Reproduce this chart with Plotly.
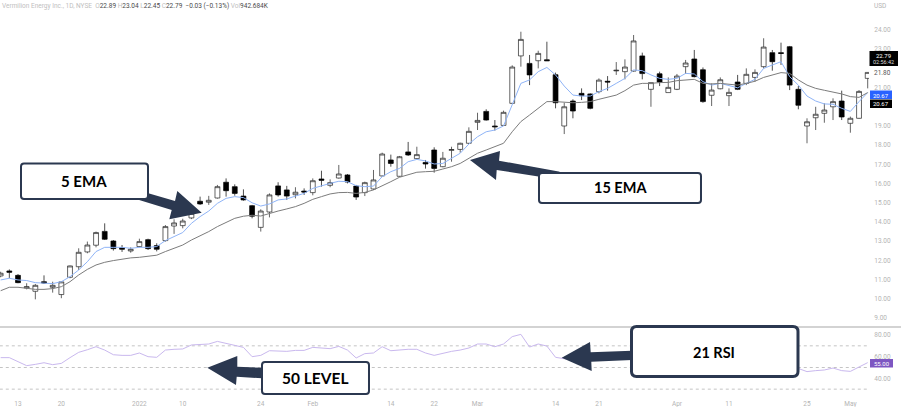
import plotly.graph_objects as go

W, H = 901, 407

bars = list(range(-2, 99))
opens = [11.19,11.45,11.22,10.56,10.39,10.89,10.60,10.22,11.12,11.67,12.44,12.79,13.51,13.01,12.66,12.49,12.72,13.08,12.77,13.03,13.79,13.81,14.21,15.08,15.03,15.25,16.07,15.84,15.35,14.85,13.72,14.52,15.88,15.67,15.42,
         15.61,15.53,16.24,15.91,16.29,16.45,15.87,15.53,15.72,16.40,17.23,16.38,17.65,17.30,17.10,17.75,16.88,17.73,17.78,18.10,19.19,19.76,19.00,19.03,20.18,22.65,22.26,22.40,22.45,21.67,19.00,20.30,20.70,20.67,20.79,
         21.33,21.87,21.83,21.86,22.65,20.91,21.72,20.74,20.91,22.09,22.49,21.93,20.60,20.94,20.58,21.29,21.22,21.53,22.09,22.82,22.82,23.13,20.91,19.00,19.43,19.66,20.00,20.30,19.14,19.40,21.48]
highs = [11.41,11.53,11.29,10.81,10.77,11.22,10.89,10.90,11.73,12.63,12.98,13.50,13.93,13.06,12.80,12.68,13.13,13.13,12.89,13.84,14.14,14.17,14.60,15.32,15.36,15.93,16.27,15.96,15.70,14.89,14.66,15.49,16.07,15.88,15.81,
         15.75,16.27,16.67,16.22,16.97,16.50,15.93,16.10,16.71,17.61,17.51,17.44,18.17,17.92,17.23,17.89,17.65,17.92,18.13,18.93,19.69,19.87,19.31,19.80,22.16,23.91,22.70,22.92,23.39,21.78,20.21,20.39,20.96,20.70,21.48,
         21.60,22.33,22.47,23.74,22.82,21.26,21.83,21.53,21.71,22.44,22.96,22.05,21.22,21.53,20.96,21.66,22.00,21.95,23.57,22.96,23.34,23.17,21.08,19.40,20.00,20.18,20.44,20.84,19.49,20.87,21.80]
lows = [11.12,11.07,10.81,10.49,9.97,10.77,10.32,10.03,11.07,11.50,12.37,12.68,13.06,12.51,12.44,12.40,12.68,12.54,12.47,12.98,13.38,13.67,14.15,14.89,14.89,15.22,15.32,15.37,15.11,14.19,13.50,14.24,15.32,15.15,15.23,
        15.41,15.39,15.84,15.81,16.26,16.01,15.15,15.35,15.67,16.36,16.88,16.36,17.44,17.26,16.78,16.57,16.85,17.14,17.61,18.06,18.79,19.28,18.76,19.00,20.15,22.09,21.13,22.00,22.40,19.92,18.58,19.40,20.35,19.87,20.70,
        20.84,21.66,21.43,21.83,21.43,20.00,21.08,20.74,20.87,21.71,21.53,20.21,20.04,20.91,20.04,20.87,21.13,21.31,22.00,21.88,22.18,20.87,19.87,18.10,18.79,19.17,19.31,19.31,18.65,19.38,20.96]
closes = [11.33,11.38,10.84,10.63,10.70,10.82,10.70,10.88,11.71,12.42,12.80,13.45,13.10,12.61,12.58,12.58,12.98,12.61,12.58,13.76,13.95,14.05,14.45,14.94,15.13,15.84,15.63,15.49,15.15,14.30,14.57,15.41,15.41,15.35,15.55,
          15.56,16.15,16.17,16.05,16.50,16.08,15.30,16.05,16.19,17.54,17.05,17.40,17.49,17.51,17.02,16.79,17.32,17.77,18.10,18.72,19.29,19.31,18.96,19.71,22.07,23.51,21.66,22.78,22.40,20.21,20.00,19.78,20.58,19.92,21.39,
          21.29,21.90,22.07,23.43,21.73,21.26,21.29,21.01,21.60,22.28,21.57,20.27,20.87,21.41,20.75,20.91,21.69,21.79,23.11,22.35,22.78,21.13,20.08,19.22,19.61,19.83,20.27,19.47,19.40,20.80,21.79]

ema5 = [10.98,11.07,10.98,10.95,10.84,10.81,10.79,10.89,11.15,11.50,11.93,12.46,12.68,12.68,12.68,12.63,12.68,12.68,12.72,13.03,13.24,13.45,13.93,14.28,14.57,14.97,15.23,15.32,15.27,15.00,14.83,14.94,15.15,15.20,15.35,
        15.49,15.75,15.89,16.01,16.12,16.10,15.89,15.84,15.87,16.36,16.62,16.79,17.14,17.26,17.18,17.02,17.05,17.32,17.58,18.06,18.44,18.70,18.79,19.00,20.09,21.22,21.40,21.83,22.05,21.66,21.08,20.61,20.56,20.56,20.79,
        20.96,21.22,21.48,21.92,21.88,21.66,21.48,21.43,21.48,21.74,21.71,21.31,21.13,21.22,21.10,20.99,21.22,21.43,22.00,22.18,22.35,21.57,21.13,20.56,20.30,20.15,20.13,19.92,19.76,20.27,20.74]
ema15 = [10.42,10.60,10.60,10.53,10.49,10.49,10.53,10.63,10.89,11.24,11.53,11.76,11.90,11.99,12.06,12.13,12.16,12.20,12.27,12.46,12.63,12.80,13.06,13.27,13.50,13.76,13.97,14.19,14.30,14.35,14.31,14.45,14.57,14.68,14.80,
         14.97,15.18,15.32,15.46,15.53,15.54,15.49,15.54,15.67,15.87,16.10,16.33,16.48,16.59,16.62,16.64,16.76,16.88,17.05,17.32,17.58,17.75,17.92,18.10,18.70,19.23,19.57,19.92,20.27,20.27,20.23,20.21,20.23,20.27,20.39,
         20.49,20.61,20.84,21.13,21.22,21.22,21.26,21.27,21.36,21.41,21.43,21.22,21.19,21.22,21.19,21.13,21.22,21.33,21.53,21.66,21.78,21.74,21.40,21.13,20.96,20.86,20.77,20.67,20.53,20.49,20.74]
rsi = [59.1,59.1,55.4,51.7,52.9,54.4,52.6,53.8,59.1,64.0,66.4,69.2,66.1,61.8,61.2,61.2,63.4,60.0,59.4,66.1,66.8,67.1,70.8,71.4,71.7,74.1,72.3,71.1,68.6,60.0,61.2,65.5,65.2,64.9,65.8,65.8,68.6,68.0,67.4,69.5,66.1,58.8,62.8,63.4,69.2,65.5,66.4,66.8,66.8,63.4,61.2,63.4,64.9,
       66.1,68.0,71.7,71.7,69.2,71.7,78.5,80.6,68.9,71.7,69.8,59.4,58.1,
       57,56,58,60,61,60,60,58,57,56,55,55,56,58,55,52,53,53,54,55,56,58,60,61,59,52,
       49.2,46.2,47.1,47.7,49.5,47.1,46.4,50.8,54.5]

date_ticks = [0, 5, 14, 19, 28, 34, 43, 48, 53, 62, 67, 76, 82, 91, 96]
date_labels = ["13", "20", "2022", "10", "24", "Feb", "14", "22", "Mar", "14", "21", "Apr", "11", "25", "May"]
price_ticks = [24, 23, 21, 19, 18, 17, 16, 15, 14, 13, 12, 11, 10, 9]
rsi_ticks = [80, 60, 40]
rsi_levels = [70, 50, 30]
AXIS = "#b4b4b4"
NAVY = "#2b3850"
TICKFONT = dict(size=6.5, color=AXIS, family="Roboto")

def px(x):
    return x / W
def py(y):
    return 1 - y / H

fig = go.Figure()
fig.add_trace(go.Candlestick(x=bars, open=opens, high=highs, low=lows, close=closes,
    increasing=dict(line=dict(color="#222222", width=0.7), fillcolor="#ffffff"),
    decreasing=dict(line=dict(color="#000000", width=0.7), fillcolor="#000000"),
    whiskerwidth=0, showlegend=False, hoverinfo="skip", xaxis="x", yaxis="y"))
fig.add_trace(go.Scatter(x=bars, y=ema5, mode="lines", line=dict(color="#8fb4f7", width=1), showlegend=False, xaxis="x", yaxis="y"))
fig.add_trace(go.Scatter(x=bars, y=ema15, mode="lines", line=dict(color="#7c7c7c", width=1), showlegend=False, xaxis="x", yaxis="y"))
fig.add_trace(go.Scatter(x=bars, y=rsi, mode="lines", line=dict(color="#c9b8ee", width=1), showlegend=False, xaxis="x2", yaxis="y2"))

shapes = []
for lv in rsi_levels:
    shapes.append(dict(type="line", xref="x2", yref="y2", x0=-2.1, x1=98, y0=lv, y1=lv,
                       line=dict(color="#c4c4c4", width=1, dash="3px,3px"), layer="below"))
shapes.append(dict(type="line", xref="paper", yref="paper", x0=0, x1=1, y0=py(327), y1=py(327),
                   line=dict(color="#a8a8a8", width=1.2)))

def poly(points):
    d = "M " + " L ".join(f"{px(x):.5f} {py(y):.5f}" for x, y in points) + " Z"
    shapes.append(dict(type="path", xref="paper", yref="paper", path=d, fillcolor=NAVY, line=dict(width=0)))

def round_box(x0, y0, x1, y1, r, lw):
    P = lambda x, y: f"{px(x):.5f} {py(y):.5f}"
    d = (f"M {P(x0+r,y0)} L {P(x1-r,y0)} Q {P(x1,y0)} {P(x1,y0+r)} L {P(x1,y1-r)} Q {P(x1,y1)} {P(x1-r,y1)} "
         f"L {P(x0+r,y1)} Q {P(x0,y1)} {P(x0,y1-r)} L {P(x0,y0+r)} Q {P(x0,y0)} {P(x0+r,y0)} Z")
    shapes.append(dict(type="path", xref="paper", yref="paper", path=d, fillcolor="#ffffff", line=dict(color=NAVY, width=lw)))

def rect(x0, y0, x1, y1, color):
    shapes.append(dict(type="rect", xref="paper", yref="paper", x0=px(x0), x1=px(x1), y0=py(y0), y1=py(y1),
                       fillcolor=color, line=dict(width=0)))

poly([(148.3,193.3),(175,201),(177.3,191),(201.7,212.7),(169.3,219.3),(171.7,210),(136.7,199.3)])
poly([(470,160),(500,151),(499,160.7),(560,171.7),(540,176.7),(496.7,170),(496,180)])
poly([(561.7,357.7),(590,342),(590.7,352.3),(632,350.7),(632,360),(591.3,361.7),(591.7,371)])
poly([(207.3,367.7),(237.3,356),(237.3,366.7),(262,367.7),(262,378.3),(236.7,376.7),(236,385)])
round_box(21, 163.5, 148, 199, 3, 2)
round_box(539, 173, 701, 203, 3, 2)
round_box(631.5, 326.5, 798, 376.5, 5, 3)
round_box(262, 362, 369, 394, 3, 2)
rect(869.5, 51, 898, 66, "#000000")
rect(870, 90.5, 892, 99, "#2962ff")
rect(870, 99.5, 892, 108, "#000000")
rect(870, 359, 893, 367.5, "#7e57c2")

def note(x, y, text, size=6.5, color=AXIS, anchor="center", family="Roboto"):
    return dict(xref="paper", yref="paper", x=px(x), y=py(y), text=text, showarrow=False, xanchor=anchor, yanchor="middle",
                font=dict(size=size, color=color, family=family), borderpad=0, borderwidth=0)

G = "color:#c0c0c0"
D = "color:#4a4a4a"
header = (f"<span style='{G}'>Vermilion Energy Inc., 1D, NYSE  O</span><span style='{D}'>22.89</span> "
          f"<span style='{G}'>H</span><span style='{D}'>23.04</span> <span style='{G}'>L</span><span style='{D}'>22.45</span> "
          f"<span style='{G}'>C</span><span style='{D}'>22.79  −0.03 (−0.13%)</span> <span style='{G}'>Vol</span><span style='{D}'>942.684K</span>")

annotations = [
    note(2, 6, header, anchor="left"),
    note(880, 6, "USD"),
    note(84, 181, "<b>5 EMA</b>", size=15, color="#000000", family="Lato"),
    note(620, 187.5, "<b>15 EMA</b>", size=14.5, color="#000000", family="Lato"),
    note(714, 352, "<b>21 RSI</b>", size=14.5, color="#000000", family="Lato"),
    note(315, 377.5, "<b>50 LEVEL</b>", size=15.5, color="#000000", family="Lato"),
    note(883.5, 55.8, "22.79", size=6, color="#ffffff"),
    note(883.5, 62.4, "02:56:42", size=5.5, color="#dddddd"),
    note(882, 72.5, "21.80", color="#555555"),
    note(881, 95.2, "20.67", size=6, color="#ffffff"),
    note(881, 103.8, "20.67", size=6, color="#ffffff"),
    note(881.5, 363.8, "55.00", size=6, color="#ffffff"),
]

fig.update_layout(
    width=W, height=H, margin=dict(l=0, r=0, t=0, b=0), autosize=False, boxgap=0.2,
    paper_bgcolor="#ffffff", plot_bgcolor="#ffffff", showlegend=False, hovermode=False,
    shapes=shapes, annotations=annotations,
    xaxis=dict(domain=[0, 869/W], range=[-2.076, 98.15], anchor="y", showticklabels=False, showgrid=False,
               zeroline=False, ticks="", rangeslider=dict(visible=False), showline=False),
    xaxis2=dict(domain=[0, 869/W], range=[-2.076, 98.15], anchor="y2", matches="x", tickmode="array",
                tickvals=date_ticks, ticktext=date_labels, showgrid=False, zeroline=False,
                ticks="outside", ticklen=2, tickcolor="#ffffff", showline=False, tickfont=TICKFONT, tickangle=0),
    yaxis=dict(domain=[1-327/H, 1], range=[8.53, 25.5625], side="right", anchor="x", tickmode="array",
               tickvals=price_ticks, ticktext=[f"{v:.2f}" for v in price_ticks], showgrid=False, zeroline=False,
               ticks="outside", ticklen=3, tickcolor="#ffffff", showline=False, tickfont=TICKFONT),
    yaxis2=dict(domain=[1-395/H, 1-327/H], range=[24.6, 87.4], side="right", anchor="x2", tickmode="array",
                tickvals=rsi_ticks, ticktext=[f"{v:.2f}" for v in rsi_ticks], showgrid=False, zeroline=False,
                ticks="outside", ticklen=3, tickcolor="#ffffff", showline=False, tickfont=TICKFONT),
)

assert all(len(a) == len(bars) for a in (opens, highs, lows, closes, ema5, ema15, rsi))

fig.write_html("out.html", config=dict(displayModeBar=False), post_script="document.body.style.margin='0';document.body.style.overflow='hidden';")
